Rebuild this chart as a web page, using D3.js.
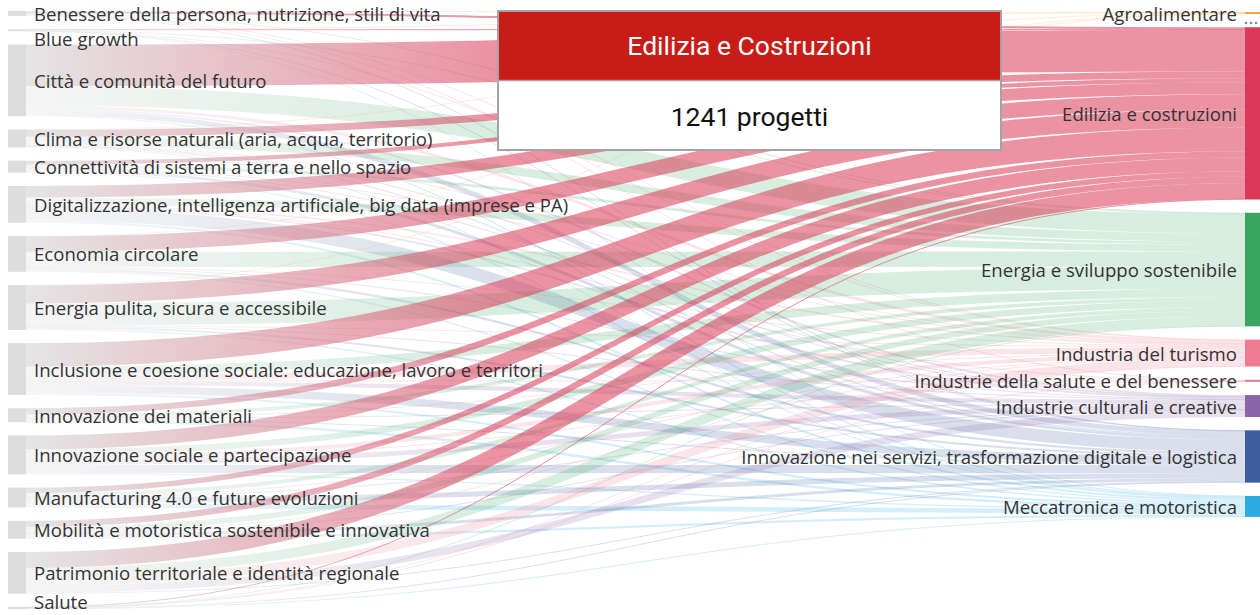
<!DOCTYPE html>
<html>
<head>
<meta charset="utf-8">
<script src="https://cdn.jsdelivr.net/npm/d3@7"></script>
<style>
    body { margin: 0; background: #fff; }
    svg { display: block; }
</style>
</head>
<body>
<div id="content"></div>
<script>
const sources = [
    'Benessere della persona, nutrizione, stili di vita',
    'Blue growth',
    'Città e comunità del futuro',
    'Clima e risorse naturali (aria, acqua, territorio)',
    'Connettività di sistemi a terra e nello spazio',
    'Digitalizzazione, intelligenza artificiale, big data (imprese e PA)',
    'Economia circolare',
    'Energia pulita, sicura e accessibile',
    'Inclusione e coesione sociale: educazione, lavoro e territori',
    'Innovazione dei materiali',
    'Innovazione sociale e partecipazione',
    'Manufacturing 4.0 e future evoluzioni',
    'Mobilità e motoristica sostenibile e innovativa',
    'Patrimonio territoriale e identità regionale',
    'Salute'
]

const targets = [
    'Agroalimentare',
    'Edilizia e costruzioni',
    'Energia e sviluppo sostenibile',
    'Industria del turismo',
    'Industrie della salute e del benessere',
    'Industrie culturali e creative',
    'Innovazione nei servizi, trasformazione digitale e logistica',
    'Meccatronica e motoristica'
]

const targetColors = ['#f2a541', '#da3a57', '#38a660', '#ee7b91', '#e2719b', '#8a65aa', '#3e5d9d', '#2bade4']

// projects per source (rows) and target (columns, same order as targets)
const flows = [
    [4, 14, 4, 4, 6, 0, 4, 0],
    [1, 4, 5, 2, 0, 0, 1, 1],
    [0, 300, 140, 20, 0, 12, 35, 9],
    [3, 50, 60, 4, 0, 2, 6, 4],
    [0, 30, 20, 3, 0, 3, 22, 8],
    [0, 85, 50, 12, 1, 12, 90, 15],
    [4, 110, 110, 5, 0, 3, 16, 10],
    [2, 130, 160, 4, 0, 2, 15, 10],
    [0, 170, 60, 40, 3, 30, 55, 15],
    [0, 45, 25, 2, 0, 3, 7, 18],
    [0, 100, 45, 30, 2, 35, 58, 10],
    [0, 40, 27, 3, 0, 3, 37, 33],
    [0, 45, 40, 4, 0, 3, 21, 16],
    [0, 115, 70, 60, 0, 50, 6, 0],
    [0, 3, 2, 1, 2, 0, 4, 2]
]

const highlighted = 'Edilizia e costruzioni'
const tooltipTitle = 'Edilizia e Costruzioni'
const tooltipText = '1241 progetti'

const width = 1260
const height = 615
const yTop = 11
const yBottom = 609
const pad = 13.3
const leftX = 8
const leftW = 18
const rightX = 1245
const rightW = 15
const font = '"Open Sans", "Noto Sans", sans-serif'
const labelSize = 18.6

const sourceTotals = flows.map(r => d3.sum(r))
const targetTotals = targets.map((t, j) => d3.sum(flows, r => r[j]))
const total = d3.sum(sourceTotals)

const ky = Math.min(
    (yBottom - yTop - (sources.length - 1) * pad) / total,
    (yBottom - yTop - (targets.length - 1) * pad) / total
)
const scaleV = d3.scaleLinear().domain([0, total]).range([0, total * ky])

const stackNodes = (totals, start) => {
    let y = start
    return totals.map(v => {
        const node = { y0: y, y1: y + scaleV(v) }
        y = node.y1 + pad
        return node
    })
}

const leftNodes = stackNodes(sourceTotals, yTop)
const rightNodes = stackNodes(targetTotals, yTop + 1)

// links: ordered by target at the source, by source at the target
const links = []
const srcOff = leftNodes.map(n => n.y0)
const tgtOff = rightNodes.map(n => n.y0)
sources.forEach((s, i) => {
    targets.forEach((t, j) => {
        const v = flows[i][j]
        if (!v) return
        const w = scaleV(v)
        links.push({ i, j, w, sy: srcOff[i] + w / 2, ty: tgtOff[j] + w / 2, hi: t === highlighted })
        srcOff[i] += w
        tgtOff[j] += w
    })
})

const svg = d3.select('#content')
    .append('svg')
    .attr('width', width)
    .attr('height', height)

const defs = svg.append('defs')
targets.forEach((t, j) => {
    const g = defs.append('linearGradient')
        .attr('id', `grad-${j}`)
        .attr('gradientUnits', 'userSpaceOnUse')
        .attr('x1', leftX + leftW)
        .attr('x2', rightX)
        .attr('y1', 0)
        .attr('y2', 0)
    g.append('stop').attr('offset', '0%').attr('stop-color', '#cfcfcf')
    g.append('stop').attr('offset', '38%').attr('stop-color', targetColors[j])
    g.append('stop').attr('offset', '100%').attr('stop-color', targetColors[j])
})

const linkPath = d3.linkHorizontal()

svg.append('g')
    .attr('id', 'links')
    .attr('fill', 'none')
    .selectAll('path')
    .data(links.slice().sort((a, b) => a.hi - b.hi))
    .join('path')
    .attr('d', d => linkPath({ source: [leftX + leftW, d.sy], target: [rightX, d.ty] }))
    .attr('stroke', d => `url(#grad-${d.j})`)
    .attr('stroke-width', d => Math.max(1, d.w))
    .attr('stroke-opacity', d => d.hi ? 0.55 : 0.2)

// nodes
svg.append('g')
    .selectAll('rect')
    .data(leftNodes)
    .join('rect')
    .attr('x', leftX)
    .attr('width', leftW)
    .attr('y', d => d.y0)
    .attr('height', d => Math.max(1.5, d.y1 - d.y0))
    .attr('fill', '#dddddd')

svg.append('g')
    .selectAll('rect')
    .data(rightNodes)
    .join('rect')
    .attr('x', rightX)
    .attr('width', rightW)
    .attr('y', d => d.y0)
    .attr('height', d => Math.max(1.5, d.y1 - d.y0))
    .attr('fill', (d, j) => targetColors[j])

// small "more" dots under the first target
svg.append('g')
    .selectAll('circle')
    .data([0, 1, 2])
    .join('circle')
    .attr('cx', d => rightX + 1 + d * 5)
    .attr('cy', 23)
    .attr('r', 1.3)
    .attr('fill', '#8a8a8a')

// labels, pushed down a little where they would collide
const labelYs = (nodes) => {
    let prev = -Infinity
    return nodes.map(n => {
        const y = Math.min(Math.max((n.y0 + n.y1) / 2 + 1, prev + 25, 14), height - 13)
        prev = y
        return y
    })
}

const leftLabelY = labelYs(leftNodes)
svg.append('g')
    .selectAll('text')
    .data(sources)
    .join('text')
    .text(d => d)
    .attr('x', leftX + leftW + 8)
    .attr('y', (d, i) => leftLabelY[i])
    .attr('dy', '0.35em')
    .attr('font-family', font)
    .attr('font-size', labelSize)
    .attr('fill', '#333')

const rightLabelY = labelYs(rightNodes)
svg.append('g')
    .selectAll('text')
    .data(targets)
    .join('text')
    .text(d => d)
    .attr('x', rightX - 8)
    .attr('y', (d, i) => rightLabelY[i])
    .attr('dy', '0.35em')
    .attr('text-anchor', 'end')
    .attr('font-family', font)
    .attr('font-size', labelSize)
    .attr('fill', '#333')

// tooltip
const tip = svg.append('g')
    .attr('transform', 'translate(498, 11)')

tip.append('rect')
    .attr('width', 503)
    .attr('height', 139)
    .attr('fill', '#fff')
    .attr('stroke', '#a3a3a3')
    .attr('stroke-width', 2)

tip.append('rect')
    .attr('x', 1)
    .attr('y', 1)
    .attr('width', 501)
    .attr('height', 68)
    .attr('fill', '#c81c17')

tip.append('line')
    .attr('x1', 0)
    .attr('x2', 503)
    .attr('y1', 69.5)
    .attr('y2', 69.5)
    .attr('stroke', '#a3a3a3')
    .attr('stroke-width', 1.5)

tip.append('text')
    .text(tooltipTitle)
    .attr('x', 251.5)
    .attr('y', 35)
    .attr('dy', '0.35em')
    .attr('text-anchor', 'middle')
    .attr('font-family', 'Roboto, sans-serif')
    .attr('font-size', 26.5)
    .attr('fill', '#fff')

tip.append('text')
    .text(tooltipText)
    .attr('x', 251.5)
    .attr('y', 106)
    .attr('dy', '0.35em')
    .attr('text-anchor', 'middle')
    .attr('font-family', 'Roboto, sans-serif')
    .attr('font-size', 26.5)
    .attr('fill', '#111')
</script>
</body>
</html>
